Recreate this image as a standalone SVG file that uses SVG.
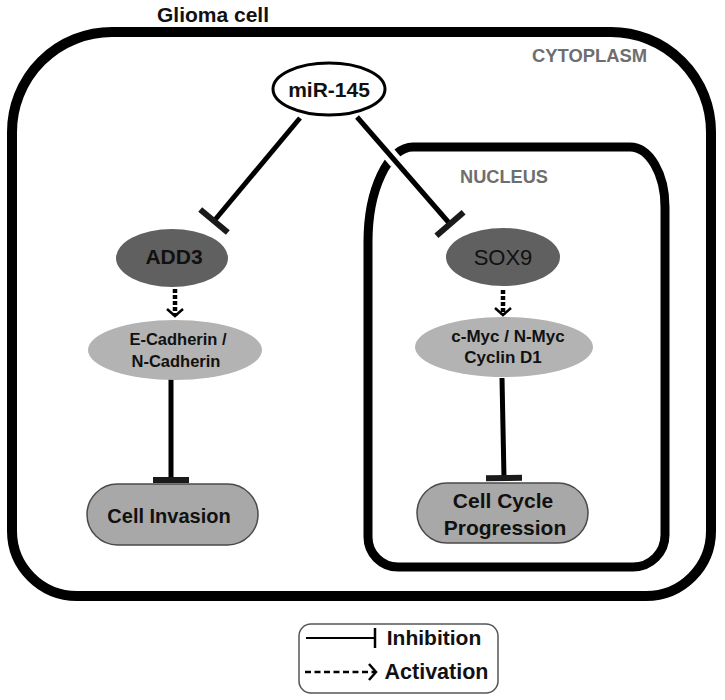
<svg xmlns="http://www.w3.org/2000/svg" width="725" height="700" viewBox="0 0 725 700">
<style>
text{font-family:"Liberation Sans",Arial,sans-serif;font-weight:bold;text-anchor:middle;fill:#111}
.frame{fill:none;stroke:#000}
.label{fill:#6e6e6e}
.dark{fill:#606060}
.light{fill:#b3b3b3}
.term{fill:#a8a8a8;stroke:#4a4a4a;stroke-width:1.5}
.inh{stroke:#000;stroke-width:5;fill:none}
.act{stroke:#000;stroke-width:4.5;fill:none;stroke-dasharray:4 2}
</style>
<defs>
<marker id="tee" markerUnits="userSpaceOnUse" viewBox="-5 -22 10 44" refX="0" refY="0" markerWidth="10" markerHeight="44" orient="auto" overflow="visible"><path d="M0,-18 V18" stroke="#1a1a1a" stroke-width="6"/></marker>
<marker id="teeS" markerUnits="userSpaceOnUse" viewBox="-3 -12 6 24" refX="0" refY="0" markerWidth="6" markerHeight="24" orient="auto" overflow="visible"><path d="M0,-10 V10" stroke="#000" stroke-width="2.5"/></marker>
<marker id="chev" markerUnits="userSpaceOnUse" viewBox="-12 -8 14 16" refX="0" refY="0" markerWidth="14" markerHeight="16" orient="auto" overflow="visible"><path d="M-7,-8 L0,0 L-7,8" stroke="#000" stroke-width="2.5" fill="none"/></marker>
</defs>
<rect width="725" height="700" fill="#fff"/>
<g id="cell">
<path class="frame" stroke-width="10" d="M12,132 A100,100 0 0 1 112,32 H611 A100,100 0 0 1 711,132 V531 A65,65 0 0 1 646,596 H77 A65,65 0 0 1 12,531 Z"/>
<text x="213" y="22" font-size="21">Glioma cell</text>
<text class="label" x="589.5" y="62" font-size="18" textLength="115" lengthAdjust="spacingAndGlyphs">CYTOPLASM</text>
</g>
<g id="nucleus">
<path class="frame" stroke-width="9" d="M368,242 A45,95 0 0 1 413,147 H630 A35,60 0 0 1 665,207 V535 A32,32 0 0 1 633,567 H398 A30,30 0 0 1 368,537 Z"/>
<text class="label" x="504" y="183" font-size="17.5" textLength="88" lengthAdjust="spacingAndGlyphs">NUCLEUS</text>
</g>
<g id="connectors">
<line x1="372" y1="134" x2="396" y2="162" stroke="#fff" stroke-width="14"/>
<line class="inh" x1="300" y1="118" x2="214" y2="221" marker-end="url(#tee)"/>
<line class="inh" x1="357" y1="117" x2="450" y2="224" marker-end="url(#tee)"/>
<line class="act" x1="175" y1="289" x2="175" y2="316" marker-end="url(#chev)"/>
<line class="act" x1="503" y1="290" x2="503" y2="315" marker-end="url(#chev)"/>
<line class="inh" x1="171" y1="378" x2="171" y2="480" marker-end="url(#tee)"/>
<line class="inh" x1="502" y1="378" x2="504" y2="478" marker-end="url(#tee)"/>
</g>
<g id="mir145">
<ellipse cx="329" cy="89" rx="56" ry="26" fill="#fff" stroke="#000" stroke-width="3"/>
<text x="329" y="97" font-size="21">miR-145</text>
</g>
<g id="add3">
<ellipse class="dark" cx="172" cy="258" rx="56" ry="29"/>
<text x="174" y="264" font-size="21">ADD3</text>
</g>
<g id="sox9">
<ellipse class="dark" cx="503" cy="257" rx="57" ry="29"/>
<text x="503" y="265" font-size="22" font-weight="normal" style="font-weight:normal">SOX9</text>
</g>
<g id="ecad">
<ellipse class="light" cx="175" cy="350" rx="87" ry="30"/>
<text x="178" y="345" font-size="16.5">E-Cadherin /</text>
<text x="176" y="367" font-size="16.5">N-Cadherin</text>
</g>
<g id="cmyc">
<ellipse class="light" cx="504" cy="347" rx="89" ry="30"/>
<text x="508" y="342" font-size="17">c-Myc / N-Myc</text>
<text x="503" y="363" font-size="17">Cyclin D1</text>
</g>
<g id="invasion">
<rect class="term" x="87" y="484" width="171" height="61" rx="30.5"/>
<text x="169" y="523" font-size="20">Cell Invasion</text>
</g>
<g id="cellcycle">
<rect class="term" x="417" y="483" width="171" height="60" rx="30"/>
<text x="503" y="508" font-size="21">Cell Cycle</text>
<text x="505" y="535" font-size="21">Progression</text>
</g>
<g id="legend">
<rect x="299" y="624" width="199" height="69" rx="12" fill="#fff" stroke="#555" stroke-width="1.5"/>
<line x1="306" y1="638" x2="375" y2="638" stroke="#000" stroke-width="2" marker-end="url(#teeS)"/>
<text x="434" y="645" font-size="21" style="text-anchor:middle">Inhibition</text>
<line x1="305" y1="672" x2="376" y2="672" stroke="#000" stroke-width="2.5" stroke-dasharray="6 3.5" marker-end="url(#chev)"/>
<text x="436.5" y="679" font-size="21.5">Activation</text>
</g>
</svg>
